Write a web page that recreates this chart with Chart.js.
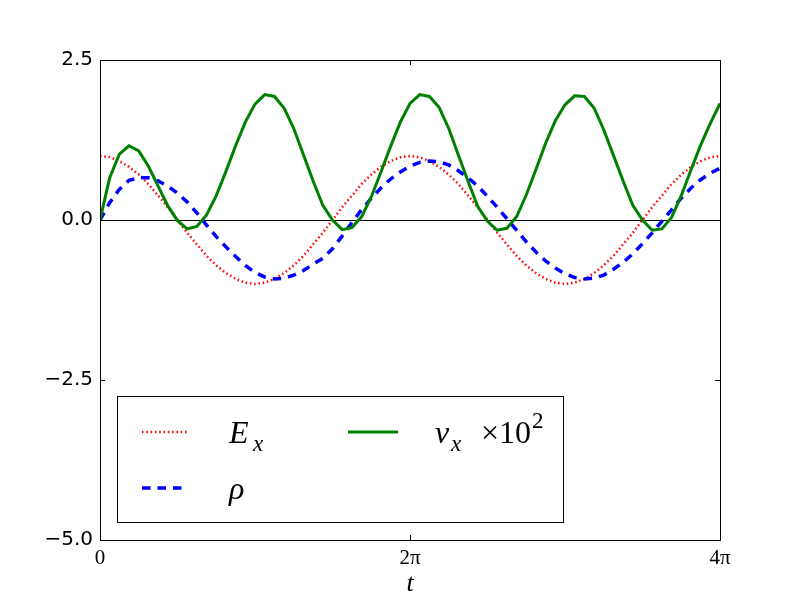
<!DOCTYPE html>
<html>
<head>
<meta charset="utf-8">
<script src="https://cdn.jsdelivr.net/npm/chart.js@4"></script>
<style>
  html, body { margin: 0; padding: 0; background: #fff; }
</style>
</head>
<body>
<canvas id="myChart" width="800" height="600"></canvas>
<script>
// one sample every pi/16, t = 0 .. 4pi (65 samples)
const exVals = [1.00, 0.98, 0.92, 0.83, 0.71, 0.56, 0.38, 0.20, 0.00, -0.20, -0.38, -0.56, -0.71, -0.83, -0.92, -0.98,
  -1.00, -0.98, -0.92, -0.83, -0.71, -0.56, -0.38, -0.20, 0.00, 0.20, 0.38, 0.56, 0.71, 0.83, 0.92, 0.98,
  1.00, 0.98, 0.92, 0.83, 0.71, 0.56, 0.38, 0.20, 0.00, -0.20, -0.38, -0.56, -0.71, -0.83, -0.92, -0.98,
  -1.00, -0.98, -0.92, -0.83, -0.71, -0.56, -0.38, -0.20, 0.00, 0.20, 0.38, 0.56, 0.71, 0.83, 0.92, 0.98, 1.00];

const rhoVals = [0.00, 0.27, 0.48, 0.62, 0.66, 0.66, 0.61, 0.53, 0.42, 0.28, 0.11, -0.08, -0.26, -0.42, -0.57, -0.71,
  -0.82, -0.89, -0.92, -0.91, -0.86, -0.79, -0.69, -0.60, -0.45, -0.25, -0.04, 0.16, 0.34, 0.50, 0.64, 0.75,
  0.84, 0.90, 0.92, 0.91, 0.86, 0.77, 0.66, 0.53, 0.37, 0.20, 0.02, -0.16, -0.34, -0.50, -0.64, -0.75,
  -0.84, -0.90, -0.92, -0.91, -0.86, -0.77, -0.66, -0.53, -0.37, -0.20, -0.02, 0.16, 0.34, 0.50, 0.63, 0.73, 0.81];

const vxVals = [0.00, 0.66, 1.03, 1.16, 1.08, 0.84, 0.53, 0.22, -0.01, -0.14, -0.10, 0.08, 0.38, 0.76, 1.16, 1.53,
  1.81, 1.96, 1.93, 1.75, 1.43, 1.02, 0.61, 0.23, 0.00, -0.15, -0.12, 0.05, 0.36, 0.75, 1.15, 1.53,
  1.82, 1.96, 1.93, 1.76, 1.43, 1.01, 0.60, 0.21, -0.02, -0.16, -0.13, 0.05, 0.39, 0.79, 1.20, 1.55,
  1.80, 1.94, 1.93, 1.75, 1.41, 1.01, 0.61, 0.23, 0.00, -0.16, -0.14, 0.04, 0.38, 0.78, 1.17, 1.51, 1.82];

const xTickPos = [0, 32, 64];
const xTickLabels = ['0', '2π', '4π'];
const yTicks = [2.5, 0, -2.5, -5];

const toPts = arr => arr.map((v, i) => ({x: i, y: v}));

// frame, inward ticks, zero line
const framePlugin = {
  id: 'frame',
  beforeDatasetsDraw(chart) {
    const {ctx, chartArea: a, scales: {x, y}} = chart;
    ctx.save();
    ctx.strokeStyle = '#000';
    ctx.lineWidth = 1;
    const y0 = Math.round(y.getPixelForValue(0)) + 0.5;
    ctx.beginPath();
    ctx.moveTo(a.left, y0);
    ctx.lineTo(a.right, y0);
    ctx.stroke();
    ctx.restore();
  },
  afterDatasetsDraw(chart) {
    const {ctx, chartArea: a, scales: {x, y}} = chart;
    ctx.save();
    ctx.strokeStyle = '#000';
    ctx.lineWidth = 1;
    ctx.beginPath();
    yTicks.forEach(v => {
      const py = Math.round(y.getPixelForValue(v)) + 0.5;
      ctx.moveTo(a.left, py); ctx.lineTo(a.left + 5, py);
      ctx.moveTo(a.right, py); ctx.lineTo(a.right - 5, py);
    });
    xTickPos.forEach(v => {
      const px = Math.round(x.getPixelForValue(v)) + 0.5;
      ctx.moveTo(px, a.bottom); ctx.lineTo(px, a.bottom - 5);
      ctx.moveTo(px, a.top); ctx.lineTo(px, a.top + 5);
    });
    ctx.stroke();
    ctx.strokeRect(Math.round(a.left) + 0.5, Math.round(a.top) + 0.5,
      Math.round(a.right - a.left), Math.round(a.bottom - a.top));
    ctx.restore();
  }
};

// matplotlib style legend box, two columns
const legendPlugin = {
  id: 'mplLegend',
  afterDraw(chart) {
    const ctx = chart.ctx;
    const ds = chart.data.datasets;
    ctx.save();
    ctx.fillStyle = '#fff';
    ctx.fillRect(117, 396, 446, 126);
    ctx.strokeStyle = '#000';
    ctx.lineWidth = 1;
    ctx.strokeRect(117.5, 396.5, 446, 126);

    const sample = (d, x1, x2, yy) => {
      ctx.save();
      ctx.strokeStyle = d.borderColor;
      ctx.lineWidth = d.borderWidth;
      ctx.setLineDash(d.borderDash || []);
      ctx.beginPath();
      ctx.moveTo(x1, yy); ctx.lineTo(x2, yy);
      ctx.stroke();
      ctx.restore();
    };
    sample(ds[2], 142, 189, 432);
    sample(ds[1], 142, 184, 488);
    sample(ds[0], 348, 398, 432);

    const it = s => 'italic ' + s + 'px "Liberation Serif", serif';
    const rm = s => s + 'px "Liberation Serif", serif';
    const put = (txt, font, x, yb) => { ctx.font = font; ctx.fillText(txt, x, yb); };
    ctx.fillStyle = '#000';
    ctx.textBaseline = 'alphabetic';
    put('E', it(32), 229, 443);
    put('x', it(23), 253, 451);
    put('ρ', it(32), 229, 499);
    put('v', it(32), 435, 443);
    put('x', it(23), 451, 451);
    put('×10', rm(32), 481, 443);
    put('2', rm(23), 532, 428);
    ctx.restore();
  }
};

const ctx = document.getElementById('myChart');

new Chart(ctx, {
  type: 'line',
  data: {
    datasets: [
      {
        label: 'v_x ×10²',
        data: toPts(vxVals),
        borderColor: '#008000',
        borderWidth: 3,
        pointRadius: 0,
        tension: 0,
        order: 0
      },
      {
        label: 'ρ',
        data: toPts(rhoVals),
        borderColor: '#0000ff',
        borderWidth: 3.5,
        borderDash: [8.5, 7],
        pointRadius: 0,
        tension: 0,
        order: 1
      },
      {
        label: 'E_x',
        data: toPts(exVals),
        borderColor: '#ff0000',
        borderWidth: 2.5,
        borderDash: [1.5, 2.8],
        pointRadius: 0,
        tension: 0,
        order: 2
      }
    ]
  },
  options: {
    responsive: false,
    animation: false,
    layout: { padding: { top: 60, right: 80, left: 0, bottom: 0 } },
    plugins: {
      legend: { display: false },
      tooltip: { enabled: false }
    },
    scales: {
      x: {
        type: 'linear',
        min: 0,
        max: 64,
        afterBuildTicks: s => { s.ticks = xTickPos.map(v => ({value: v})); },
        afterFit: s => { s.height = 60; },
        grid: { display: false, drawTicks: false },
        border: { display: false },
        ticks: {
          autoSkip: false,
          maxRotation: 0,
          padding: 6,
          color: '#000',
          font: { family: '"Liberation Serif", serif', size: 21 },
          callback: v => xTickLabels[xTickPos.indexOf(v)]
        },
        title: {
          display: true,
          text: 't',
          color: '#000',
          padding: 0,
          font: { family: '"Liberation Serif", serif', style: 'italic', size: 26 }
        }
      },
      y: {
        min: -5,
        max: 2.5,
        afterBuildTicks: s => { s.ticks = yTicks.map(v => ({value: v})); },
        afterFit: s => { s.width = 100; },
        grid: { display: false, drawTicks: false },
        border: { display: false },
        ticks: {
          padding: 7,
          color: '#000',
          font: { family: '"DejaVu Sans", sans-serif', size: 20 },
          callback: v => v.toFixed(1).replace('-', '\u2212')
        }
      }
    }
  },
  plugins: [framePlugin, legendPlugin]
});
</script>
</body>
</html>
